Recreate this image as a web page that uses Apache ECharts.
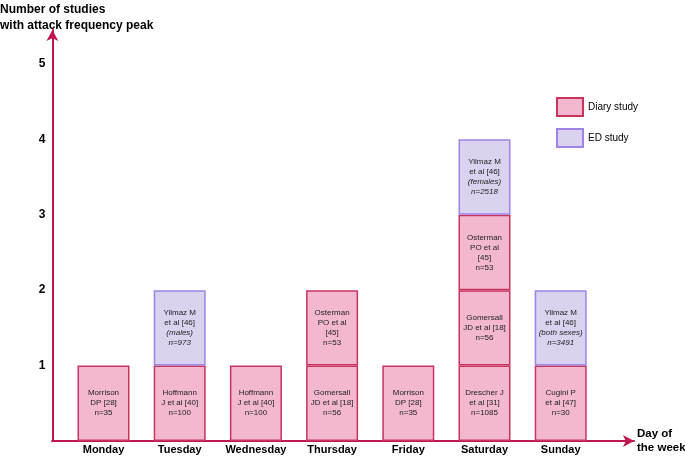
<!DOCTYPE html>
<html>
<head>
<meta charset="utf-8">
<script src="https://cdn.jsdelivr.net/npm/echarts@6/dist/echarts.min.js"></script>
<style>
  html, body { margin: 0; padding: 0; background: #fff; }
  #chart { width: 685px; height: 456px; }
</style>
</head>
<body>
<div id="chart"></div>
<script>
// days of the week (x categories)
const days = ['Monday', 'Tuesday', 'Wednesday', 'Thursday', 'Friday', 'Saturday', 'Sunday'];
// every study counts as one peak
const studyCount = 1;
// stacked studies, bottom to top; null = no study on that level
const level1Diary = [
  'Morrison\nDP [28]\nn=35',
  'Hoffmann\nJ et al [40]\nn=100',
  'Hoffmann\nJ et al [40]\nn=100',
  'Gomersall\nJD et al [18]\nn=56',
  'Morrison\nDP [28]\nn=35',
  'Drescher J\net al [31]\nn=1085',
  'Cugini P\net al [47]\nn=30'
];
const level2Diary = [null, null, null, 'Osterman\nPO et al\n[45]\nn=53', null, 'Gomersall\nJD et al [18]\nn=56', null];
const level2ED = [null, 'Yilmaz M\net al [46]\n{i|(males)}\n{i|n=973}', null, null, null, null, 'Yilmaz M\net al [46]\n{i|(both sexes)}\n{i|n=3491}'];
const level3Diary = [null, null, null, null, null, 'Osterman\nPO et al\n[45]\nn=53', null];
const level4ED = [null, null, null, null, null, 'Yilmaz M\net al [46]\n{i|(females)}\n{i|n=2518}', null];

const axisColor = '#c0174f';
const diaryFill = '#f3b8d0', diaryStroke = '#c8345e';
const edFill = '#dad2ef', edStroke = '#9d84e6';
const yMax = 5.45;

function tier(name, labels, fill, stroke) {
  return {
    name: name,
    type: 'bar',
    stack: 'days',
    barWidth: 52,
    xAxisIndex: 0,
    yAxisIndex: 0,
    data: labels.map(t => t ? studyCount : '-'),
    itemStyle: { color: fill, borderColor: stroke, borderWidth: 1.5 },
    label: {
      show: true,
      position: 'inside',
      formatter: p => labels[p.dataIndex],
      fontFamily: 'Liberation Sans',
      fontSize: 8,
      lineHeight: 10,
      color: '#222',
      align: 'center',
      rich: { i: { fontStyle: 'italic', fontFamily: 'Liberation Sans', fontSize: 8, lineHeight: 10, color: '#222' } }
    }
  };
}

let chart = echarts.init(document.getElementById('chart'));
chart.setOption({
  animation: false,
  title: {
    text: 'Number of studies\nwith attack frequency peak',
    left: 0, top: 2, padding: 0,
    textStyle: { fontFamily: 'Liberation Sans', fontSize: 12, fontWeight: 'bold', lineHeight: 16, color: '#000' }
  },
  legend: {
    data: ['Diary study', 'ED study'],
    orient: 'vertical',
    left: 556, top: 97, padding: 0,
    icon: 'rect',
    itemWidth: 26, itemHeight: 18, itemGap: 11,
    textStyle: { fontFamily: 'Liberation Sans', fontSize: 10, color: '#000' }
  },
  grid: [
    { left: 65.4, right: 86.2, top: 30, bottom: 15, outerBoundsMode: 'none' },
    { left: 52, right: 51, top: 30, bottom: 15, outerBoundsMode: 'none' }
  ],
  xAxis: [
    {
      type: 'category', gridIndex: 0, data: days,
      axisLine: { show: false }, axisTick: { show: false },
      axisLabel: { interval: 0, margin: 3, fontFamily: 'Liberation Sans', fontSize: 11, fontWeight: 'bold', color: '#000' }
    },
    {
      type: 'value', gridIndex: 1, min: 0, max: 1,
      axisLine: { show: true, lineStyle: { color: axisColor, width: 2 }, symbol: ['none', 'arrow'], symbolSize: [9, 11] },
      axisTick: { show: false }, axisLabel: { show: false }, splitLine: { show: false },
      name: 'Day of\nthe week', nameLocation: 'end', nameGap: 3,
      nameTextStyle: { fontFamily: 'Liberation Sans', fontSize: 11.5, fontWeight: 'bold', lineHeight: 14, color: '#000', align: 'left', verticalAlign: 'middle' }
    }
  ],
  yAxis: [
    {
      type: 'value', gridIndex: 0, min: 0, max: yMax, interval: 1, offset: 13,
      axisLine: { show: true, lineStyle: { color: axisColor, width: 2 }, symbol: ['none', 'arrow'], symbolSize: [9, 11] },
      axisTick: { show: false }, splitLine: { show: false },
      axisLabel: {
        margin: 7, showMinLabel: false, showMaxLabel: false,
        fontFamily: 'Liberation Sans', fontSize: 12, fontWeight: 'bold', color: '#000'
      }
    },
    { type: 'value', gridIndex: 1, min: 0, max: yMax, show: false }
  ],
  series: [
    tier('Diary study', level1Diary, diaryFill, diaryStroke),
    tier('Diary study', level2Diary, diaryFill, diaryStroke),
    tier('ED study', level2ED, edFill, edStroke),
    tier('Diary study', level3Diary, diaryFill, diaryStroke),
    tier('ED study', level4ED, edFill, edStroke)
  ]
});
</script>
</body>
</html>
